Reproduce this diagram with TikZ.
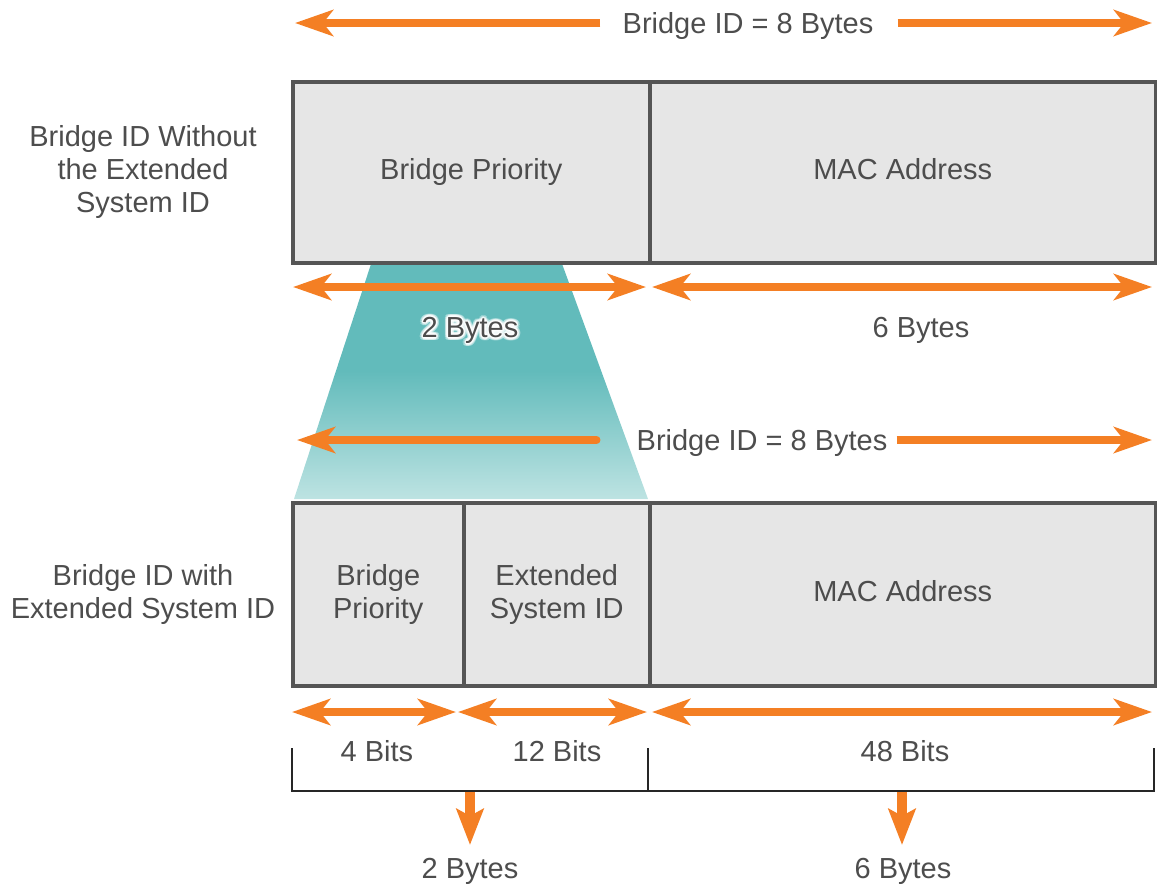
\documentclass[tikz,border=0pt]{standalone}
\usepackage{fontspec}
\setmainfont{Liberation Sans}
\usetikzlibrary{arrows.meta}
\definecolor{org}{HTML}{F47F24}
\definecolor{txt}{HTML}{4D4D4D}
\definecolor{edge}{HTML}{555555}
\definecolor{boxg}{HTML}{E6E6E6}
\definecolor{tealA}{HTML}{62BBBB}
\definecolor{tealB}{HTML}{BDE3E2}
\pgfdeclareverticalshading{trapshade}{100bp}{color(0bp)=(tealB); color(25bp)=(tealB); color(52bp)=(tealA); color(100bp)=(tealA)}
\begin{document}
\begin{tikzpicture}[x=1pt,y=-1pt,
  font=\fontsize{29}{33}\selectfont,
  every node/.style={text=txt},
  orgtip/.tip={Stealth[length=38pt,width=26pt,inset=10pt]},
  downtip/.tip={Stealth[length=36pt,width=27pt,inset=7pt]},
  dimline/.style={draw=org, line width=8pt},
  field/.style={draw=edge, line width=3.5pt, fill=boxg, anchor=north west, inner sep=0pt, align=center},
  oneline/.style={text height=21pt, text depth=6pt},
  lbl/.style={inner sep=0pt, text height=21pt, text depth=0pt},
  side/.style={inner sep=0pt, align=center},
  bracket/.style={draw=black!85, line width=1.6pt},
  downarrow/.style={draw=org, line width=10pt, -downtip}]
\useasboundingbox (0,0) rectangle (1157,884);

% teal trapezoid
\shade[shading=trapshade]
  (372,261) -- (561,261) -- (648,499) -- (294,499) -- cycle;

% top structure
\node[field, oneline, minimum width=357pt, minimum height=181pt] (bp1) at (291,80) {Bridge Priority};
\node[field, oneline, minimum width=506pt, minimum height=181pt] (mac1) at (648,80) {MAC Address};

% bottom structure
\node[field, minimum width=171pt, minimum height=183pt] (bp2) at (291,501) {Bridge\\Priority};
\node[field, minimum width=186pt, minimum height=183pt] (esid) at (462,501) {Extended\\System ID};
\node[field, oneline, minimum width=506pt, minimum height=183pt] (mac2) at (648,501) {MAC Address};

% side labels
\node[side] (lab1) at (143,172) {Bridge ID Without\\the Extended\\System ID};
\node[side] (lab2) at (143,594) {Bridge ID with\\Extended System ID};

% top title
\node[lbl] (t1) at (748,23) {Bridge ID = 8 Bytes};
\coordinate (t1l) at (295,23);
\coordinate (t1r) at (1152,23);
\draw[dimline, -orgtip, shorten <=22pt] (t1.west) -- (t1l);
\draw[dimline, -orgtip, shorten <=24pt] (t1.east) -- (t1r);

% row arrows under top box
\coordinate (a1) at (293,287);
\coordinate (a2) at (646,287);
\coordinate (a3) at (652,287);
\coordinate (a4) at (1152,287);
\draw[dimline, orgtip-orgtip] (a1) -- (a2);
\draw[dimline, orgtip-orgtip] (a3) -- (a4);

% labels under top box (with soft white glow)
\foreach \a in {0,30,...,330}
  \node[lbl, text=white, opacity=0.35] at ({470+3.2*cos(\a)},{327+3.2*sin(\a)}) {2 Bytes};
\foreach \a in {0,30,...,330}
  \node[lbl, text=white, opacity=0.6] at ({470+1.6*cos(\a)},{327+1.6*sin(\a)}) {2 Bytes};
\node[lbl] (by2) at (470,327) {2 Bytes};
\node[lbl] (by6) at (921,327) {6 Bytes};

% second title
\node[lbl] (t2) at (762,440) {Bridge ID = 8 Bytes};
\coordinate (t2l) at (297,440);
\coordinate (t2r) at (1152,440);
\draw[dimline, -orgtip, line cap=round, shorten <=40pt] (t2.west) -- (t2l);
\draw[dimline, -orgtip, shorten <=9pt] (t2.east) -- (t2r);

% row arrows under bottom box
\coordinate (b1) at (292,712);
\coordinate (b2) at (456,712);
\coordinate (b3) at (458,712);
\coordinate (b4) at (647,712);
\coordinate (b5) at (652,712);
\coordinate (b6) at (1152,712);
\draw[dimline, orgtip-orgtip] (b1) -- (b2);
\draw[dimline, orgtip-orgtip] (b3) -- (b4);
\draw[dimline, orgtip-orgtip] (b5) -- (b6);

\node[lbl] (bits4) at (377,751) {4 Bits};
\node[lbl] (bits12) at (557,751) {12 Bits};
\node[lbl] (bits48) at (905,751) {48 Bits};

% brackets
\coordinate (k1) at (292,748);
\coordinate (k1b) at (292,791);
\coordinate (k2) at (648,748);
\coordinate (k2b) at (648,791);
\coordinate (k3) at (1154,748);
\coordinate (k3b) at (1154,791);
\draw[bracket] (k1) -- (k1b) -- (k3b) -- (k3);
\draw[bracket] (k2) -- (k2b);

% down arrows and totals
\node[lbl] (tot2) at (470,868) {2 Bytes};
\node[lbl] (tot6) at (903,868) {6 Bytes};
\coordinate (d1) at (470,792);
\coordinate (d2) at (902,792);
\draw[downarrow] (d1) -- (470,845);
\draw[downarrow] (d2) -- (902,845);
\end{tikzpicture}
\end{document}
